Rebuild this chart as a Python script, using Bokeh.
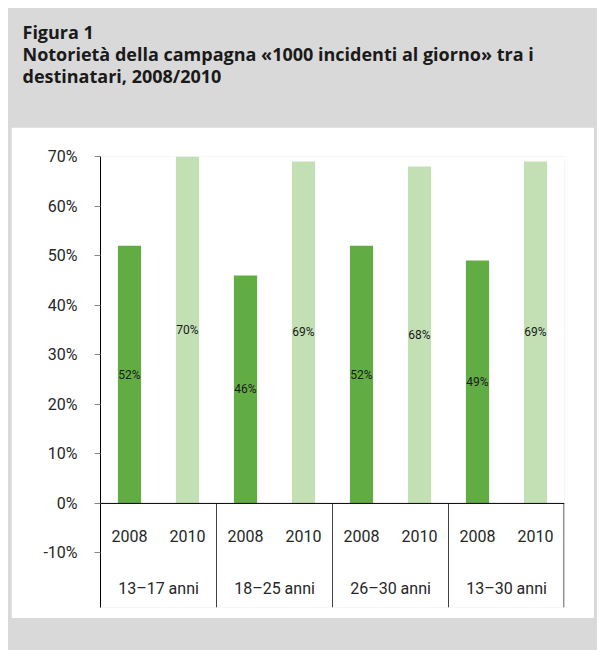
from bokeh.plotting import figure
from bokeh.layouts import column
from bokeh.models import (FactorRange, Range1d, FixedTicker, NumeralTickFormatter,
                          Span, ColumnDataSource)
from bokeh.embed import file_html
from bokeh.resources import INLINE
from bokeh.core.properties import value

# ---------------- data ----------------
groups = ["13–17 anni", "18–25 anni", "26–30 anni", "13–30 anni"]
years = ["2008", "2010"]
values_2008 = [0.52, 0.46, 0.52, 0.49]
values_2010 = [0.70, 0.69, 0.68, 0.69]
y_ticks = [-0.1, 0.0, 0.1, 0.2, 0.3, 0.4, 0.5, 0.6, 0.7]
title_lines = ["Figura 1",
               "Notorietà della campagna «1000 incidenti al giorno» tra i",
               "destinatari, 2008/2010"]

# ---------------- layout constants (page pixels) ----------------
BOX_L, BOX_T, BOX_R = 8, 8, 597          # grey box
PAN_L, PAN_T, PAN_R, PAN_B = 11, 127, 594, 618   # white panel
FL, FR, FT, FB = 100, 564, 156, 607      # plot frame
PAGE_H = 650
TITLE_X = 22
TITLE_BASE = [31, 53, 75]
Y0, Y1 = -0.21, 0.70
DARK = "#62ac44"
LIGHT = "#c3e0b4"
GRAY = "#d9d9d9"
FONT = "Roboto"
TFONT = "Open Sans"
TXT = "#262626"

factors = [(g, y) for g in groups for y in years]
NX = len(factors)


def dy(px):
    return Y1 - (px - FT) / (FB - FT) * (Y1 - Y0)


def no_align(fig):
    if "frame_align" in fig.properties():
        fig.frame_align = False


# ---------------- title block ----------------
TW, TH = BOX_R - BOX_L, PAN_T - BOX_T
tp = figure(width=TW, height=TH, x_range=Range1d(0, TW), y_range=Range1d(TH, 0),
            title=None, output_backend="svg", toolbar_location=None, tools="",
            x_axis_location=None, y_axis_location=None,
            min_border_left=0, min_border_right=0, min_border_top=0, min_border_bottom=0,
            border_fill_color=GRAY, background_fill_color=GRAY, outline_line_color=None)
tp.grid.visible = False
no_align(tp)
tsrc = ColumnDataSource(dict(
    x=[TITLE_X - BOX_L] * len(title_lines),
    y=[b - BOX_T for b in TITLE_BASE],
    t=title_lines,
))
tp.text(x="x", y="y", text="t", source=tsrc, text_font=value(TFONT),
        text_font_style="bold", text_font_size="18px", text_baseline="alphabetic",
        text_align="left", text_color="#1a1a1a")

# ---------------- chart ----------------
x_range = FactorRange(*factors, factor_padding=0, group_padding=0,
                      subgroup_padding=0, range_padding=0)

p = figure(width=PAN_R - PAN_L, height=PAN_B - PAN_T, x_range=x_range,
           y_range=Range1d(Y0, Y1), title=None,
           output_backend="svg", toolbar_location=None, tools="",
           x_axis_location=None, y_axis_location="left",
           min_border_left=FL - PAN_L, min_border_right=PAN_R - FR,
           min_border_top=FT - PAN_T, min_border_bottom=PAN_B - FB,
           border_fill_color="white", background_fill_color="white",
           outline_line_color=None,
           margin=(0, BOX_R - PAN_R, PAGE_H - PAN_B, PAN_L - BOX_L))
p.grid.visible = False
no_align(p)

ax = p.yaxis[0]
ax.ticker = FixedTicker(ticks=y_ticks)
ax.formatter = NumeralTickFormatter(format="0%")
ax.axis_line_color = "black"
ax.axis_line_width = 1
ax.major_tick_line_color = "#868686"
ax.major_tick_in = 0
ax.major_tick_out = 6
ax.minor_tick_line_color = None
ax.major_label_standoff = 17
ax.major_label_text_font = FONT
ax.major_label_text_font_size = "16px"
ax.major_label_text_color = TXT

vals = []
cols = []
for a, b in zip(values_2008, values_2010):
    vals += [a, b]
    cols += [DARK, LIGHT]
src = ColumnDataSource(dict(
    x=factors, top=vals, color=cols,
    mid=[v / 2 for v in vals],
    label=[f"{round(v * 100)}%" for v in vals],
    year=[f[1] for f in factors],
))
p.vbar(x="x", top="top", width=0.4, source=src, fill_color="color", line_color=None)
p.text(x="x", y="mid", text="label", source=src, text_align="center",
       text_baseline="middle", text_font=value(FONT), text_font_size="12px",
       text_color="#1a1a1a")

p.add_layout(Span(location=0, dimension="width", line_color="black", line_width=1))
bounds = [2 * (i + 1) for i in range(len(groups))]
bounds[-1] = NX - 0.01
p.segment(x0=bounds, y0=[0] * len(bounds), x1=bounds, y1=[Y0] * len(bounds),
          line_color="#404040", line_width=1)

p.text(x="x", y=dy(535), text="year", source=src, text_align="center",
       text_baseline="middle", text_font=value(FONT), text_font_size="16px",
       text_color=TXT)
p.text(x=groups, y=[dy(588)] * len(groups), text=groups, text_align="center",
       text_baseline="middle", text_font=value(FONT), text_font_size="16px",
       text_color=TXT)

layout = column(tp, p, spacing=0, margin=(BOX_T, 599 - BOX_R, 0, BOX_L),
                styles={"background-color": GRAY})

open("out.html", "w").write(file_html(layout, INLINE))
